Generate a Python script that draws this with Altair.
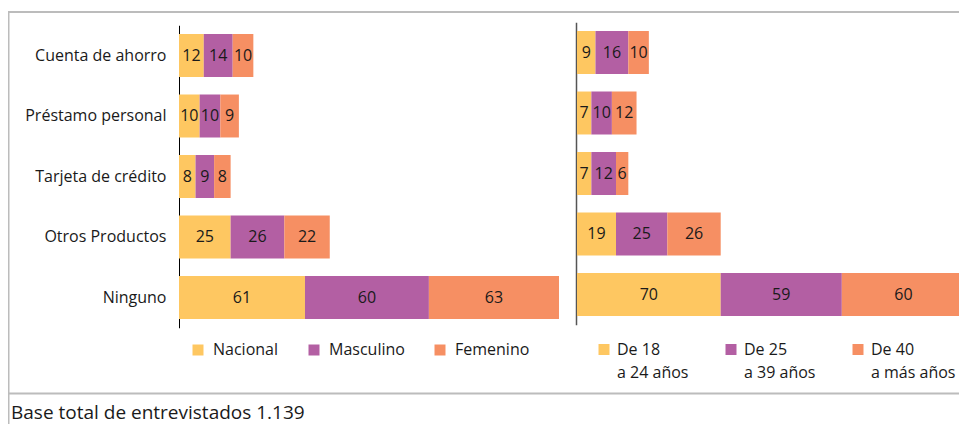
import altair as alt
import pandas as pd

# ---------------- data ----------------
categories = ["Cuenta de ahorro", "Préstamo personal", "Tarjeta de crédito",
              "Otros Productos", "Ninguno"]

sexo_series = ["Nacional", "Masculino", "Femenino"]
nacional = [12, 10, 8, 25, 61]
masculino = [14, 10, 9, 26, 60]
femenino = [10, 9, 8, 22, 63]

edad_series = ["De 18 a 24 años", "De 25 a 39 años", "De 40 a más años"]
edad_18_24 = [9, 7, 7, 19, 70]
edad_25_39 = [16, 10, 12, 25, 59]
edad_40_mas = [10, 12, 6, 26, 60]

footer_text = "Base total de entrevistados 1.139"

# ---------------- style ----------------
colors = ["#FEC761", "#B35FA3", "#F68F63"]
FONT = "Open Sans"
TEXT = "#1a1a1a"
BORDER = "#bcbcbc"
W, H = 951, 416


def make_frame(names, columns):
    rows = []
    for si, (name, vals) in enumerate(zip(names, columns)):
        for cat, v in zip(categories, vals):
            rows.append({"category": cat, "series": name, "order": si, "value": v})
    return pd.DataFrame(rows)


df_sexo = make_frame(sexo_series, [nacional, masculino, femenino])
df_edad = make_frame(edad_series, [edad_18_24, edad_25_39, edad_40_mas])


def panel(df, names, xdomain, xrange, yrange, axis, legend):
    base = alt.Chart(df)
    yscale = alt.Scale(domain=categories, range=yrange,
                       paddingInner=0.29, paddingOuter=0.145)
    xscale = alt.Scale(domain=xdomain, range=xrange, nice=False, zero=True)
    y = alt.Y("category:N", sort=categories, scale=yscale, axis=axis, title=None)
    bars = base.mark_bar().encode(
        x=alt.X("value:Q", stack="zero", scale=xscale, axis=None),
        y=y,
        color=alt.Color("series:N", sort=names,
                        scale=alt.Scale(domain=names, range=colors),
                        legend=legend),
        order=alt.Order("order:Q", sort="ascending"),
    )
    labels = base.transform_window(
        cum="sum(value)", groupby=["category"],
        sort=[alt.SortField("order", order="ascending")], frame=[None, 0]
    ).transform_calculate(
        mid="datum.cum - datum.value / 2"
    ).mark_text(font=FONT, fontSize=16, color=TEXT, baseline="middle",
                align="center").encode(
        x=alt.X("mid:Q", scale=xscale, axis=None),
        y=y,
        text=alt.Text("value:Q"),
    )
    return alt.layer(bars, labels)


left_axis = alt.Axis(orient="left", offset=-171, ticks=False, labelPadding=13,
                     labelFont=FONT, labelFontSize=16, labelColor=TEXT,
                     domainColor="#000000", domainWidth=1, title=None,
                     labelLimit=300)
right_axis = alt.Axis(orient="left", offset=-568, ticks=False, labels=False,
                      domainColor="#555555", domainWidth=1.5, title=None)

left_legend = alt.Legend(orient="none", legendX=182, legendY=334,
                         direction="horizontal", columns=3, title=None,
                         symbolType="square", symbolSize=121,
                         symbolStrokeWidth=0, labelFont=FONT,
                         labelFontSize=16, labelColor=TEXT,
                         columnPadding=27, labelOffset=7, padding=0)

left_panel = panel(df_sexo, sexo_series, [0, 184], [171, 551],
                   [17.25, 319.75], left_axis, left_legend)
right_panel = panel(df_edad, edad_series, [0, 189], [569, 957],
                    [14.25, 316.75], right_axis, None)

# legend of the age panel, drawn from the same series names and colours
leg_x = alt.X("series:N", sort=edad_series, axis=None,
              scale=alt.Scale(type="point", domain=edad_series,
                              range=[596, 850], padding=0))
leg_color = alt.Color("series:N", sort=edad_series, legend=None,
                      scale=alt.Scale(domain=edad_series, range=colors))
leg_base = alt.Chart(pd.DataFrame({"series": edad_series}))
right_leg_sym = leg_base.mark_square(size=121, opacity=1).encode(
    x=leg_x, y=alt.value(341.5), color=leg_color)
right_leg_txt = leg_base.transform_calculate(
    lines="[slice(datum.series, 0, 5), slice(datum.series, 6)]"
).mark_text(font=FONT, fontSize=16, color=TEXT, align="left",
            baseline="alphabetic", lineHeight=23, dx=13).encode(
    x=leg_x, y=alt.value(347), text="lines:N")
right_legend = alt.layer(right_leg_sym, right_leg_txt)

dummy = pd.DataFrame({"t": [footer_text]})
top_line = alt.Chart(dummy).mark_rule(color=BORDER, strokeWidth=2).encode(
    x=alt.value(0), x2=alt.value(W), y=alt.value(4))
left_line = alt.Chart(dummy).mark_rule(color=BORDER, strokeWidth=1.5).encode(
    x=alt.value(0.75), y=alt.value(4), y2=alt.value(H))
sep_line = alt.Chart(dummy).mark_rule(color=BORDER, strokeWidth=2).encode(
    x=alt.value(0), x2=alt.value(W), y=alt.value(385.5))
footer = alt.Chart(dummy).mark_text(font=FONT, fontSize=19, color=TEXT,
                                    align="left", baseline="alphabetic").encode(
    x=alt.value(3), y=alt.value(410.5), text="t:N")

chart = alt.layer(
    top_line, left_line, sep_line, left_panel, right_panel, right_legend, footer
).resolve_scale(
    x="independent", y="independent", color="independent"
).properties(
    width=W, height=H, padding=0,
    autosize=alt.AutoSizeParams(type="none"),
).configure_view(strokeWidth=0)

chart.save("out.html", embed_options={"renderer": "svg", "actions": False})
